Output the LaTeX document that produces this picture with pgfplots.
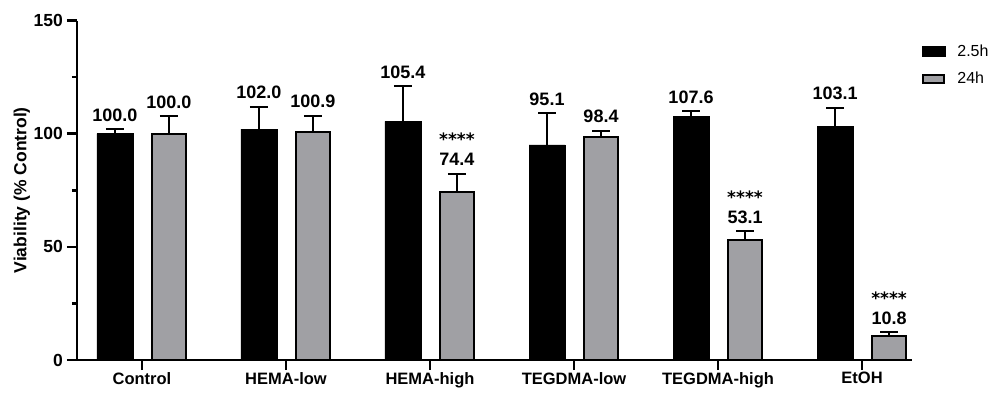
\documentclass[border=0pt]{standalone}
\usepackage{pgfplots}
\pgfplotsset{compat=1.18}
\usepackage{pgfplotstable}
\usepackage{fontspec}
\setmainfont{Liberation Sans}
\newfontfamily\dejavu{DejaVu Sans}
\definecolor{barGray}{RGB}{160,160,164}

\pgfplotstableread{
x v25 e25 v24 e24
0 100.0 1.9 100.0 7.6
1 102.0 9.9 100.9 7.1
2 105.4 15.6 74.4 8.0
3 95.1 14.0 98.4 2.9
4 107.6 2.2 53.1 3.7
5 103.1 8.4 10.8 1.5
}\datatable

\begin{document}
\begin{tikzpicture}
\begin{axis}[
  scale only axis, width=835pt, height=339.5pt,
  xmin=-0.451, xmax=5.347, ymin=0, ymax=150,
  axis lines=left, axis line style={-, line width=2.5pt},
  xtick={0,...,5},
  xticklabels={Control,HEMA-low,HEMA-high,TEGDMA-low,TEGDMA-high,EtOH},
  ytick={0,50,100,150}, minor ytick={25,75,125},
  tick align=outside, major tick length=10pt, minor tick length=5pt,
  every tick/.style={line width=2.5pt, black},
  every minor tick/.style={line width=2.5pt, black},
  /pgf/number format/assume math mode=true,
  xticklabel style={inner sep=0pt, yshift=-2pt, font=\fontsize{16.5}{18}\selectfont\bfseries},
  yticklabel style={inner sep=0pt, xshift=-4pt, font=\fontsize{17.5}{18}\selectfont\bfseries},
  ylabel={Viability (\% Control)},
  ylabel style={font=\fontsize{17.5}{19}\selectfont\bfseries},
  clip=false,
  legend style={at={(rel axis cs:1.0116,0.934)}, anchor=north west, draw=none, fill=none,
    font=\fontsize{16}{18}\selectfont, row sep=10pt, inner sep=0pt,
    /tikz/every odd column/.append style={column sep=10pt}},
  legend cell align=left,
]
\addplot[ybar, bar width=36pt, bar shift=-27pt, fill=black, draw=black, line width=0.5pt,
  legend image code/.code={\fill[black] (0pt,-5pt) rectangle (23pt,5pt);}]
  table[x=x, y=v25] {\datatable};
\addlegendentry{2.5h}
\addplot[ybar, bar width=34pt, bar shift=27pt, fill=barGray, draw=black, line width=2pt,
  legend image code/.code={\draw[fill=barGray, line width=2pt] (1pt,-4pt) rectangle (22pt,4pt);}]
  table[x=x, y=v24] {\datatable};
\addlegendentry{24h}
% error bars (upper only), at the bar positions
\addplot[forget plot, draw=none, mark=none,
  error bars/.cd, y dir=plus, y explicit,
  error bar style={line width=2pt, black},
  error mark options={rotate=90, mark size=9pt, line width=2pt, black}]
  table[x expr=\thisrow{x}-0.1875, y=v25, y error=e25] {\datatable};
\addplot[forget plot, draw=none, mark=none,
  error bars/.cd, y dir=plus, y explicit,
  error bar style={line width=2pt, black},
  error mark options={rotate=90, mark size=9pt, line width=2pt, black}]
  table[x expr=\thisrow{x}+0.1875, y=v24, y error=e24] {\datatable};
% value labels above the error caps
\addplot[forget plot, draw=none, mark=none, point meta=explicit,
  nodes near coords={\pgfmathprintnumber[fixed,fixed zerofill,precision=1]{\pgfplotspointmeta}},
  nodes near coords style={anchor=base, inner sep=0pt, yshift=8pt,
    font=\fontsize{18}{20}\selectfont\bfseries, text=black}]
  table[x expr=\thisrow{x}-0.1875, y expr=\thisrow{v25}+\thisrow{e25}, meta=v25] {\datatable};
\addplot[forget plot, draw=none, mark=none, point meta=explicit,
  nodes near coords={\pgfmathprintnumber[fixed,fixed zerofill,precision=1]{\pgfplotspointmeta}},
  nodes near coords style={anchor=base, inner sep=0pt, yshift=8pt,
    font=\fontsize{18}{20}\selectfont\bfseries, text=black}]
  table[x expr=\thisrow{x}+0.1875, y expr=\thisrow{v24}+\thisrow{e24}, meta=v24] {\datatable};
\node[font=\dejavu\bfseries\fontsize{17}{17}\selectfont, inner sep=0pt, yshift=34pt] at (axis cs:2.1875,82.4) {****};
\node[font=\dejavu\bfseries\fontsize{17}{17}\selectfont, inner sep=0pt, yshift=34pt] at (axis cs:4.1875,56.8) {****};
\node[font=\dejavu\bfseries\fontsize{17}{17}\selectfont, inner sep=0pt, yshift=34pt] at (axis cs:5.1875,12.3) {****};
\end{axis}
\pgfresetboundingbox
\path (-77pt,-32pt) rectangle (915pt,360pt);
\end{tikzpicture}
\end{document}
